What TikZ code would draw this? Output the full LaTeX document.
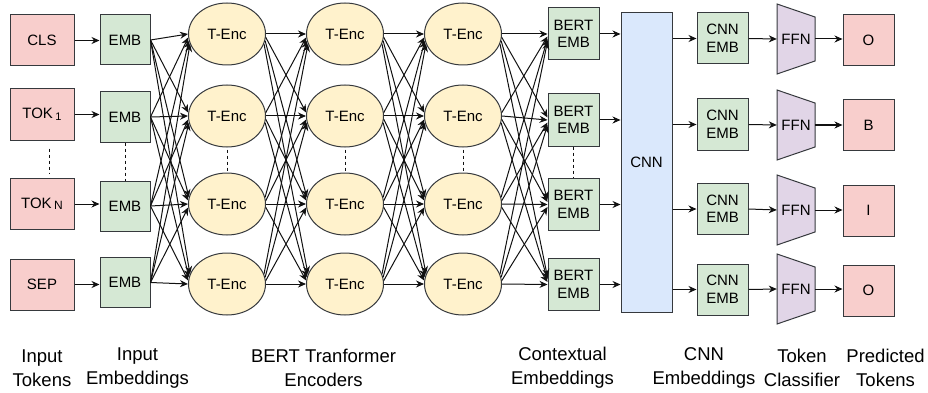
\documentclass[tikz,border=0pt]{standalone}
\usepackage{fontspec}
\setmainfont{Liberation Sans}
\usetikzlibrary{arrows.meta,calc,shapes.geometric}

\definecolor{pinkf}{HTML}{F8CECC}
\definecolor{greenf}{HTML}{D5E8D4}
\definecolor{yellowf}{HTML}{FFF2CC}
\definecolor{bluef}{HTML}{DAE8FC}
\definecolor{purplef}{HTML}{E1D5E7}
\definecolor{linec}{HTML}{36393D}
\definecolor{edgec}{HTML}{111111}

\begin{document}
\begin{tikzpicture}[x=1pt,y=-1pt,
  box/.style={draw=linec, line width=1pt, inner sep=0pt, align=center,
    font=\fontsize{15}{17.5}\selectfont},
  tokbox/.style={box, fill=pinkf, minimum width=64pt, minimum height=51pt},
  embbox/.style={box, fill=greenf, minimum width=50pt, minimum height=50pt},
  encnode/.style={box, ellipse, fill=yellowf, minimum width=77pt, minimum height=62pt},
  bertbox/.style={box, fill=greenf, minimum width=51pt, minimum height=52pt},
  cnnbox/.style={box, fill=bluef, minimum width=51pt, minimum height=299pt},
  cembox/.style={box, fill=greenf, minimum width=51pt, minimum height=51pt},
  ffnshape/.style={draw=linec, line width=1pt, fill=purplef},
  ffntext/.style={inner sep=0pt, minimum width=38pt, minimum height=44pt,
    font=\fontsize{15}{17.5}\selectfont},
  outbox/.style={box, fill=pinkf, minimum width=51pt, minimum height=51pt},
  arr/.style={draw=edgec, line width=1pt, -{Stealth[length=8pt,width=7pt]}},
  dots/.style={draw=edgec, line width=0.9pt, dash pattern=on 3pt off 3pt},
  lbl/.style={inner sep=0pt, align=center, font=\fontsize{18.5}{24}\selectfont}
]
\useasboundingbox (0,0) rectangle (928,393);

% input tokens
\node[tokbox] (tok1) at (42,40.5) {CLS};
\node[tokbox] (tok2) at (42,114.5) {TOK\,\raisebox{-2.5pt}{\fontsize{11}{11}\selectfont 1}};
\node[tokbox] (tok3) at (42,204) {TOK\,\raisebox{-1pt}{\fontsize{12}{12}\selectfont N}};
\node[tokbox] (tok4) at (42,284.5) {SEP};

% input embeddings
\foreach \i/\y in {1/40,2/117,3/206,4/282.5}
  \node[embbox] (emb\i) at (125,\y) {EMB};

% transformer encoder columns
\foreach \i/\y in {1/34,2/116,3/204,4/284} {
  \node[encnode] (a\i) at (227,\y) {T-Enc};
  \node[encnode] (b\i) at (345,\y) {T-Enc};
  \node[encnode] (c\i) at (463,\y) {T-Enc};
}

% contextual embeddings
\foreach \i/\y in {1/34,2/120,3/204.5,4/284.5}
  \node[bertbox] (bert\i) at (573.5,\y) {BERT\\EMB};

% CNN block
\node[cnnbox] (cnn) at (646.5,162.5) {CNN};

% CNN embeddings, classifier heads, predicted tokens
\foreach \i/\y in {1/38.5,2/124.5,3/209,4/289.5}
  \node[cembox] (ce\i) at (722.5,\y) {CNN\\EMB};

\foreach \i/\y in {1/39,2/125,3/210,4/289} {
  \coordinate (fc) at (796,\y);
  \filldraw[ffnshape] ($(fc)+(-19,-35)$) -- ($(fc)+(19,-22)$)
    -- ($(fc)+(19,22)$) -- ($(fc)+(-19,35)$) -- cycle;
  \node[ffntext] (ffn\i) at (fc) {FFN};
}

\node[outbox] (out1) at (868.5,40.5) {O};
\node[outbox] (out2) at (868.5,125) {B};
\node[outbox] (out3) at (868.5,210.5) {I};
\node[outbox] (out4) at (868.5,290.5) {O};

% token -> embedding
\foreach \i in {1,...,4}
  \draw[arr] (tok\i.east) -- (tok\i.east -| emb\i.west);

% embeddings -> first encoder column (fully connected)
\foreach \i in {1,...,4}
  \foreach \j in {1,...,4} {
    \pgfmathtruncatemacro\ea{180-5*(\j-\i)}
    \draw[arr] (emb\i.east) -- (a\j.\ea);
  }

% encoder -> encoder (fully connected)
\foreach \i in {1,...,4}
  \foreach \j in {1,...,4} {
    \pgfmathtruncatemacro\sa{mod(360-5*(\j-\i),360)}
    \pgfmathtruncatemacro\ea{180-5*(\j-\i)}
    \draw[arr] (a\i.\sa) -- (b\j.\ea);
    \draw[arr] (b\i.\sa) -- (c\j.\ea);
    \draw[arr] (c\i.\sa) -- ($(bert\j.west)+(0,-2.5*\j+2.5*\i)$);
  }

% contextual embeddings -> CNN -> heads
\foreach \i in {1,...,4} {
  \draw[arr] (bert\i.east) -- (bert\i.east -| cnn.west);
  \draw[arr] (cnn.east |- ce\i.west) -- (ce\i.west);
  \draw[arr] (ce\i.east) -- (ffn\i.west);
  \draw[arr] (ffn\i.east) -- (ffn\i.east -| out\i.west);
}

% ellipsis markers between rows 2 and 3
\draw[dots] ($(tok2.south)+(7,8)$) -- ($(tok3.north)+(7,-4)$);
\draw[dots] (emb2.south) -- (emb3.north);
\draw[dots] ($(a2.south)+(0,2)$) -- ($(a3.north)+(0,-2)$);
\draw[dots] ($(b2.south)+(0,2)$) -- ($(b3.north)+(0,-2)$);
\draw[dots] ($(c2.south)+(0,2)$) -- ($(c3.north)+(0,-2)$);
\draw[dots] (bert2.south) -- (bert3.north);

% column captions
\node[lbl] (l1) at (42,368) {Input\\Tokens};
\node[lbl] (l2) at (137.5,368) {Input\\Embeddings};
\node[lbl] (l3) at (323.5,368) {BERT Tranformer\\Encoders};
\node[lbl] (l4) at (562.5,368) {Contextual\\Embeddings};
\node[lbl] (l5) at (704,368) {CNN\\Embeddings};
\node[lbl] (l6) at (802,368) {Token\\Classifier};
\node[lbl] (l7) at (885.5,368) {Predicted\\Tokens};
\end{tikzpicture}
\end{document}
